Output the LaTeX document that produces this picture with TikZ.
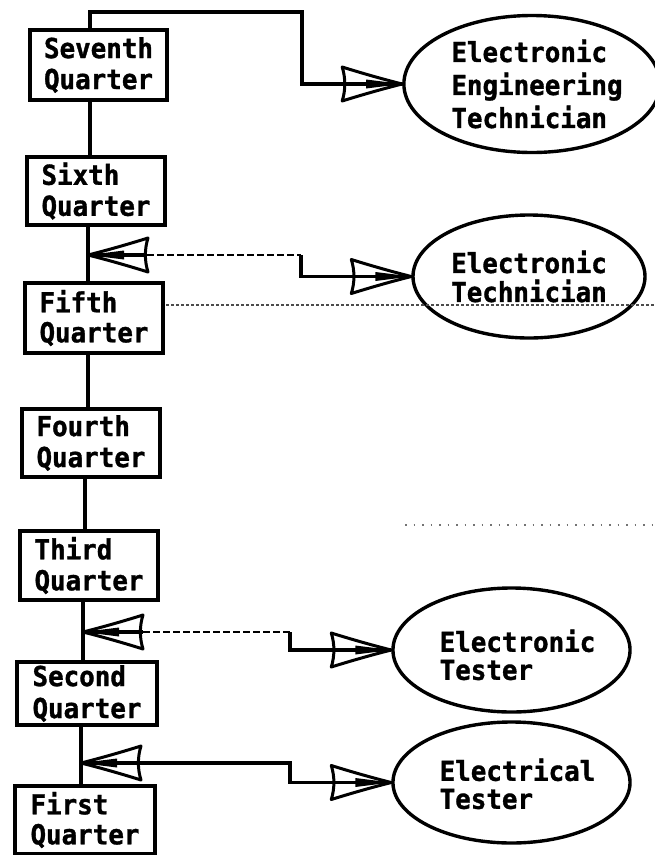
\documentclass[tikz,border=0pt]{standalone}
\usepackage{fontspec}
\usetikzlibrary{shapes.geometric}
\newfontfamily\typ[FakeStretch=0.94,FakeBold=1.2]{DejaVu Sans Mono}
\newcommand\tsz[1]{\typ\bfseries\fontsize{27.5}{#1}\selectfont}
\tikzset{
  pics/arrowhd/.style={code={
    \fill (0,0) -- (-36,-4.5) -- (-36,4.5) -- cycle;
    \draw[line width=3pt, line join=round] (0,0) .. controls (-22,-5.5) and (-44,-12) .. (-60,-17)
      .. controls (-56.5,-6) and (-56.5,6) .. (-60,17)
      .. controls (-44,12) and (-22,5.5) .. cycle;
  }},
  qbox/.style={draw, line width=3.2pt, rectangle, inner sep=0pt,
    minimum width=138pt, minimum height=69pt, align=left, font=\tsz{31}},
  job/.style={draw, line width=3.4pt, ellipse, inner sep=0pt, align=left},
  conn/.style={line width=3.2pt},
  dconn/.style={line width=2pt, dash pattern=on 7pt off 3pt},
  speck/.style={line width=1.3pt, black!70, dash pattern=on 2.5pt off 2.5pt},
  speckb/.style={line width=1.1pt, black!55, dash pattern=on 1.5pt off 7pt}
}
\begin{document}
\begin{tikzpicture}[x=1pt,y=-1pt]
\useasboundingbox (0,0) rectangle (655,855);
\fill[white] (0,0) rectangle (655,855);

% quarter boxes
\node[qbox, minimum width=137pt, minimum height=70pt] (seventh) at (98.5,65) {Seventh\\Quarter};
\node[qbox, minimum height=68pt] (sixth) at (96,191) {Sixth\\Quarter};
\node[qbox, minimum height=70pt, font=\tsz{30}] (fifth) at (94,318) {Fifth\\Quarter};
\node[qbox, minimum height=68pt] (fourth) at (91,443) {Fourth\\Quarter};
\node[qbox] (third) at (89,565.5) {Third\\Quarter};
\node[qbox, minimum width=140pt, minimum height=63pt, font=\tsz{32}] (second) at (87,693.5) {Second\\Quarter};
\node[qbox, minimum width=140pt, minimum height=68pt, font=\tsz{30}] (first) at (85,820) {First\\Quarter};

% occupations
\node[job, minimum width=250pt, minimum height=137pt, font=\tsz{33}] (eet) at (532,84)
  {\hspace*{10pt}Electronic\\\hspace*{10pt}Engineering\\\hspace*{10pt}Technician};
\node[job, minimum width=232pt, minimum height=123pt, font=\tsz{29}] (et) at (529,276.5)
  {Electronic\\Technician};
\node[job, minimum width=233pt, minimum height=124pt, font=\tsz{28}] (etr) at (511.5,650)
  {\rule{0pt}{32pt}\hspace*{12pt}Electronic\\\hspace*{12pt}Tester};
\node[job, minimum width=233pt, minimum height=121pt, font=\tsz{28}] (eltr) at (511.5,782.5)
  {\rule{0pt}{25pt}\hspace*{12pt}Electrical\\\hspace*{12pt}Tester};

% spine
\draw[conn] ([xshift=-8.5pt]seventh.south) -- ([xshift=-6pt]sixth.north);
\draw[conn] ([xshift=-8pt]sixth.south) -- ([xshift=-6pt]fifth.north);
\draw[conn] ([xshift=-6pt]fifth.south) -- ([xshift=-3pt]fourth.north);
\draw[conn] ([xshift=-6pt]fourth.south) -- ([xshift=-4pt]third.north);
\draw[conn] ([xshift=-6pt]third.south) -- ([xshift=-4pt]second.north);
\draw[conn] ([xshift=-6pt]second.south) -- ([xshift=-4pt]first.north);

% seventh quarter -> electronic engineering technician
\coordinate (k1) at (302,12);
\draw[conn] ([xshift=-8.5pt]seventh.north) |- (k1) |- (eet.west);
\pic at (eet.west) {arrowhd};

% sixth/fifth -> electronic technician
\coordinate (j6) at (88,255);
\coordinate (b6) at (147,255);
\coordinate (k2) at (301,255);
\draw[conn] (j6) -- (b6);
\draw[dconn] (b6) -- (k2);
\draw[conn] (k2) |- (et.west);
\pic[rotate=180] at (j6) {arrowhd};
\pic at (et.west) {arrowhd};

% third/second -> electronic tester
\coordinate (j2) at (83,632);
\coordinate (b2) at (143,632);
\coordinate (k3) at (290,632);
\draw[conn] (j2) -- (b2);
\draw[dconn] (b2) -- (k3);
\draw[conn] (k3) |- (etr.west);
\pic[rotate=180] at (j2) {arrowhd};
\pic at (etr.west) {arrowhd};

% second/first -> electrical tester
\coordinate (j1) at (81,763);
\coordinate (k4) at (290,763);
\draw[conn] (j1) -- (k4) |- (eltr.west);
\pic[rotate=180] at (j1) {arrowhd};
\pic at (eltr.west) {arrowhd};

% faint dotted scan lines
\draw[speck] (166,305) -- (655,305);
\draw[speckb] (405,525) -- (655,525);
\end{tikzpicture}
\end{document}
